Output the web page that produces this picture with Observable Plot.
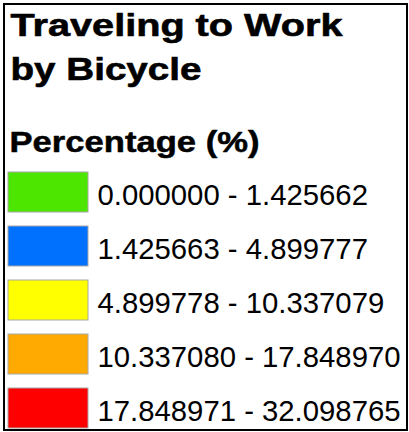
<!DOCTYPE html>
<html>
<head>
<meta charset="utf-8">
<script src="https://cdn.jsdelivr.net/npm/d3@7"></script>
<script src="https://cdn.jsdelivr.net/npm/@observablehq/plot@0.6"></script>
<style>
  html, body { margin: 0; padding: 0; background: #fff; }
  #wrap { position: relative; width: 409px; height: 432px; overflow: hidden; }
  #wrap svg { position: absolute; left: 0; top: 0; }
  #border { position: absolute; left: 3px; top: 3px; width: 405px; height: 428px;
            box-sizing: border-box; border: 2px solid #000; pointer-events: none; }
</style>
</head>
<body>
<div id="wrap"><div id="border"></div></div>
<script>
// ---- data ----
const titleLines = ["Traveling to Work", "by Bicycle"];
const fieldName = "Percentage (%)";
const classLabels = [
  "0.000000 - 1.425662",
  "1.425663 - 4.899777",
  "4.899778 - 10.337079",
  "10.337080 - 17.848970",
  "17.848971 - 32.098765"
];
const classColors = ["#4ce600", "#0070ff", "#ffff00", "#ffaa00", "#ff0000"];

const font = "'Liberation Sans', Arial, Helvetica, sans-serif";

const chart = Plot.plot({
  width: 409,
  height: 432,
  margin: 0,
  style: { fontFamily: font, background: "transparent" },
  x: { type: "band", domain: ["swatch"], range: [8, 88], padding: 0, axis: null },
  y: { type: "band", domain: classLabels, range: [172, 428], paddingInner: 0.26, paddingOuter: 0, axis: null },
  color: { type: "ordinal", domain: classLabels, range: classColors },
  marks: [
    Plot.cell(classLabels, { x: () => "swatch", y: d => d, fill: d => d, stroke: "#a8a8a8", strokeWidth: 1 }),
    Plot.text(classLabels, { y: d => d, text: d => d, frameAnchor: "left", dx: 97, dy: 3,
      textAnchor: "start", fontSize: 29.3, fill: "#000" }),
    Plot.text([titleLines[0]], { text: d => d, frameAnchor: "top-left", dx: 10, dy: 13, lineAnchor: "top",
      textAnchor: "start", fontSize: 31, fontWeight: "bold", fill: "#000", stroke: "#000", strokeWidth: 0.6 }),
    Plot.text([titleLines[1]], { text: d => d, frameAnchor: "top-left", dx: 10, dy: 57, lineAnchor: "top",
      textAnchor: "start", fontSize: 31, fontWeight: "bold", fill: "#000", stroke: "#000", strokeWidth: 0.6 }),
    Plot.text([fieldName], { text: d => d, frameAnchor: "top-left", dx: 9, dy: 130, lineAnchor: "top",
      textAnchor: "start", fontSize: 30, fontWeight: "bold", fill: "#000", stroke: "#000", strokeWidth: 0.5 })
  ]
});

// stretch the bold headings to the widths seen in the reference
const textGroups = chart.querySelectorAll('g[aria-label="text"]');
const targetWidths = [332, 191, 250];
[1, 2, 3].forEach((gi, k) => {
  const t = textGroups[gi] && textGroups[gi].querySelector("text");
  if (t) { t.setAttribute("textLength", targetWidths[k]); t.setAttribute("lengthAdjust", "spacingAndGlyphs"); }
});

document.getElementById("wrap").prepend(chart);
</script>
</body>
</html>
